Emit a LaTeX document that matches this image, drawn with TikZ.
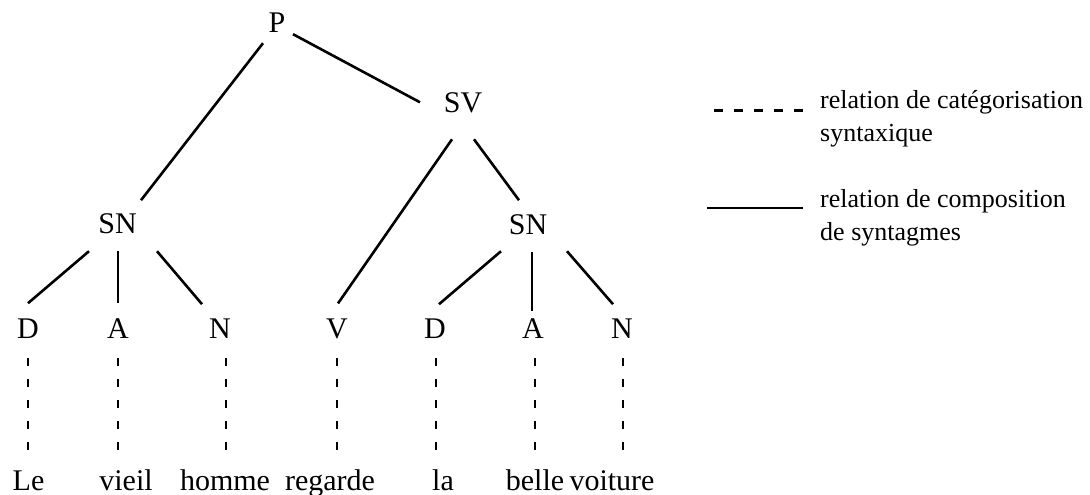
\documentclass[tikz,border=0pt]{standalone}
\usepackage{fontspec}
\setmainfont{Liberation Serif}
\usetikzlibrary{calc}
\begin{document}
\begin{tikzpicture}[x=1pt,y=-1pt,
  cat/.style={font=\fontsize{30}{36}\selectfont, inner sep=0pt, anchor=base},
  word/.style={font=\fontsize{30}{36}\selectfont, inner sep=0pt, anchor=base},
  leg/.style={font=\fontsize{26}{33}\selectfont, inner sep=0pt, anchor=base west},
  comp/.style={line width=2.6pt},
  dashrel/.style={line width=2.7pt, dash pattern=on 8pt off 13pt},
  legdash/.style={line width=2.7pt, dash pattern=on 9pt off 11pt}]
\useasboundingbox (0,0) rectangle (1090,495);
% categories
\node[cat] (P) at (277,32.5) {P};
\node[cat] (SV) at (463,113) {SV};
\node[cat] (SNl) at (117.5,233.5) {SN};
\node[cat] (SNr) at (528,234.5) {SN};
\node[cat] (D1) at (28,338) {D};
\node[cat] (A1) at (118,338) {A};
\node[cat] (N1) at (220,338) {N};
\node[cat] (V) at (337,338) {V};
\node[cat] (D2) at (435,338) {D};
\node[cat] (A2) at (533,338) {A};
\node[cat] (N2) at (622,338) {N};
% words
\node[word] (W1) at (28.5,490) {Le};
\node[word] (W2) at (126,490) {vieil};
\node[word] (W3) at (225,490) {homme};
\node[word] (W4) at (330,490) {regarde};
\node[word] (W5) at (443,490) {la};
\node[word] (W6) at (535,490) {belle};
\node[word] (W7) at (612,490) {voiture};
% composition
\draw[comp] ([shift={(-14,20.5)}]P.center) -- ([shift={(23.5,-23.5)}]SNl.center);
\draw[comp] ([shift={(16,11.5)}]P.center) -- ([shift={(-43,-1)}]SV.center);
\draw[comp] ([shift={(-11,36)}]SV.center) -- ([shift={(1,-25)}]V.center);
\draw[comp] ([shift={(11,36)}]SV.center) -- ([shift={(-9,-24.5)}]SNr.center);
\draw[comp] ([shift={(-28.5,27.5)}]SNl.center) -- ([shift={(0,-25)}]D1.center);
\draw[comp] ([shift={(0.5,27.5)}]SNl.center) -- ([shift={(0,-25)}]A1.center);
\draw[comp] ([shift={(39.5,27.5)}]SNl.center) -- ([shift={(-18,-24)}]N1.center);
\draw[comp] ([shift={(-27,26.5)}]SNr.center) -- ([shift={(4,-24)}]D2.center);
\draw[comp] ([shift={(4,27.5)}]SNr.center) -- ([shift={(-1,-17)}]A2.center);
\draw[comp] ([shift={(39,26.5)}]SNr.center) -- ([shift={(-9,-24)}]N2.center);
% categorisation
\draw[dashrel] ($(D1.center)+(0,30)$) -- ($(W1.base -| D1.center)+(0,-40)$);
\draw[dashrel] ($(A1.center)+(0,30)$) -- ($(W2.base -| A1.center)+(0,-40)$);
\draw[dashrel] ($(N1.center)+(6,30)$) -- ($(W3.base -| N1.center)+(6,-40)$);
\draw[dashrel] ($(V.center)+(0,30)$) -- ($(W4.base -| V.center)+(0,-40)$);
\draw[dashrel] ($(D2.center)+(1,30)$) -- ($(W5.base -| D2.center)+(1,-40)$);
\draw[dashrel] ($(A2.center)+(2,30)$) -- ($(W6.base -| A2.center)+(2,-40)$);
\draw[dashrel] ($(N2.center)+(1,30)$) -- ($(W7.base -| N2.center)+(1,-40)$);
% legend
\coordinate (L1a) at (714,110.5);
\coordinate (L1b) at (803,110.5);
\coordinate (L2a) at (707,208);
\coordinate (L2b) at (803,208);
\draw[legdash] (L1a) -- (L1b);
\draw[comp] (L2a) -- (L2b);
\node[leg] (T1) at (820,108) {relation de catégorisation};
\node[leg] (T2) at (820,141) {syntaxique};
\node[leg] (T3) at (820,207) {relation de composition};
\node[leg] (T4) at (820,240) {de syntagmes};
\end{tikzpicture}
\end{document}
